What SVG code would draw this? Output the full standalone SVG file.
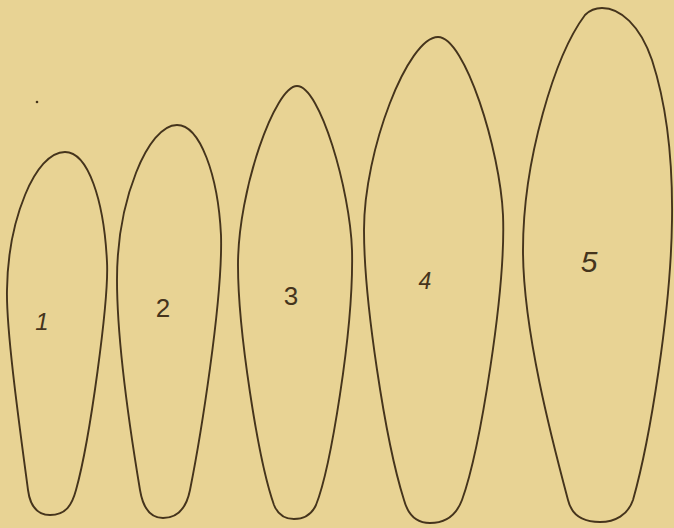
<svg xmlns="http://www.w3.org/2000/svg" width="674" height="528" viewBox="0 0 674 528">
<style>
.o{fill:none;stroke:#45341c;stroke-width:1.9;stroke-linejoin:round}
.t{font-family:"Liberation Sans",Arial,sans-serif;font-size:26px;fill:#45341c;text-anchor:middle}
.i{font-style:italic}
</style>
<rect width="674" height="528" fill="#e8d394"/>
<circle cx="37" cy="102" r="1.3" fill="#45341c"/>
<g id="shape1">
<path class="o" d="M65,152 C88,152 104,200 107,262 C109,300 90,440 76,490 C72,505 66,515 50,515 C36,515 30,505 28,490 C20,430 6,330 7,290 C8,220 35,152 65,152 Z"/>
<text class="t i" x="42" y="330" style="font-size:24px">1</text>
</g>
<g id="shape2">
<path class="o" d="M177,125 C200,125 218,175 221,235 C223,300 200,440 190,490 C186,510 177,518 163,518 C150,518 143,508 140,490 C130,430 117,340 117,280 C117,200 148,125 177,125 Z"/>
<text class="t" x="163" y="317">2</text>
</g>
<g id="shape3">
<path class="o" d="M297,86 C320,86 350,190 352,250 C354,330 330,470 316,505 C311,516 303,519 294,519 C285,519 278,515 274,505 C258,460 238,330 238,265 C238,190 275,86 297,86 Z"/>
<text class="t" x="291" y="305">3</text>
</g>
<g id="shape4">
<path class="o" d="M438,37 C465,37 500,150 503,215 C506,290 480,450 462,500 C456,516 445,523 430,523 C416,523 408,515 404,500 C385,440 364,300 364,230 C364,150 408,37 438,37 Z"/>
<text class="t i" x="425" y="289" style="font-size:23px">4</text>
</g>
<g id="shape5">
<path class="o" d="M602,8 C620,8 640,25 652,60 C665,100 673,150 672,220 C671,310 650,440 633,500 C628,515 615,522 600,522 C585,522 572,517 568,500 C552,440 523,330 523,250 C523,160 555,55 585,15 C590,10 595,8 602,8 Z"/>
<text class="t i" x="589" y="272" style="font-size:30px">5</text>
</g>
</svg>
